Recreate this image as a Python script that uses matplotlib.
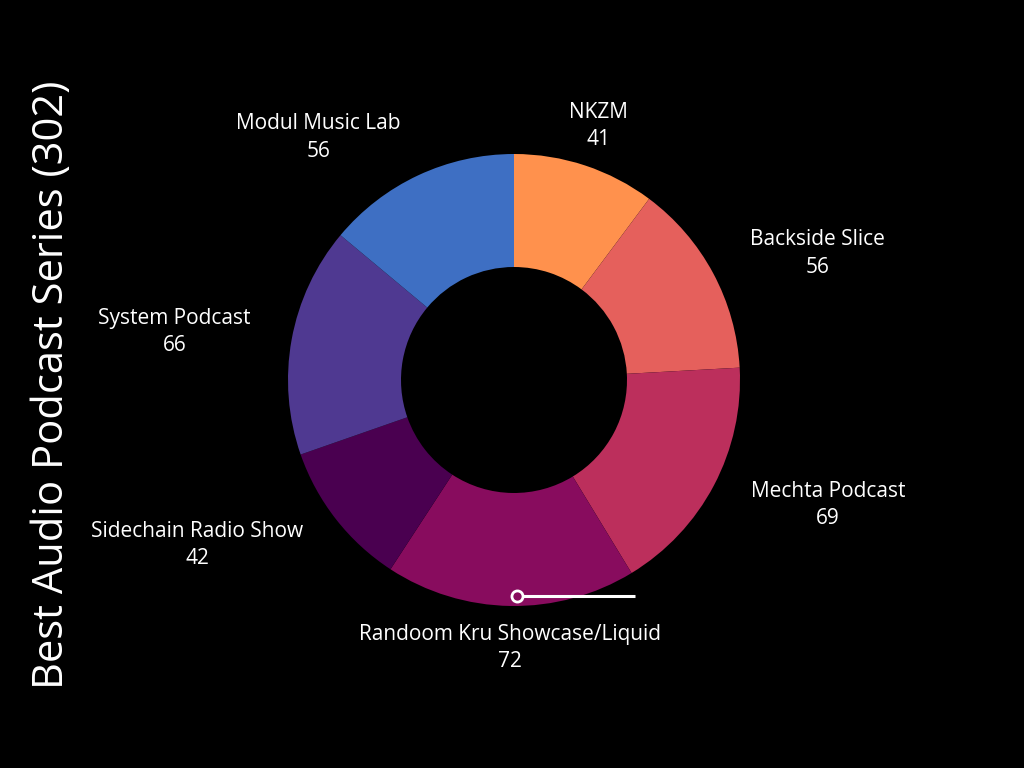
import numpy as np
import matplotlib.pyplot as plt

plt.rcParams['font.family'] = ['Open Sans', 'DejaVu Sans']

labels = ["NKZM", "Backside Slice", "Mechta Podcast", "Randoom Kru Showcase/Liquid",
          "Sidechain Radio Show", "System Podcast", "Modul Music Lab"]
values = [41, 56, 69, 72, 42, 66, 56]
colors = ["#FF914D", "#E5605C", "#BC2F5C", "#880C5E", "#4A0050", "#4F3991", "#3E6FC3"]
title = "Best Audio Podcast Series (302)"

fig = plt.figure(figsize=(10.24, 7.68), dpi=100, facecolor="black")
# axes so that center is at (514, 380) px and outer radius 226 px
R = 226
ax = fig.add_axes([(514 - 1.4 * R) / 1024, (768 - 380 - 1.4 * R) / 768,
                   2.8 * R / 1024, 2.8 * R / 768])
ax.set_facecolor("black")

wedges, _ = ax.pie(values, colors=colors, startangle=90, counterclock=False,
                   radius=1.0, wedgeprops=dict(width=0.5, linewidth=0))
ax.set_xlim(-1.4, 1.4)
ax.set_ylim(-1.4, 1.4)
ax.set_aspect("equal")
ax.axis("off")

total = sum(values)
cum = np.cumsum([0] + values)
for i, (lab, v) in enumerate(zip(labels, values)):
    mid = (cum[i] + v / 2) / total * 2 * np.pi   # clockwise from top
    x = np.sin(mid)
    y = np.cos(mid)
    r = 1.185
    if abs(x) < 0.35:
        ha = "center"
    elif x > 0:
        ha = "left"
    else:
        ha = "right"
    ax.text(r * x, r * y, lab + "\n" + str(v), color="white", fontsize=15,
            ha=ha, va="center", multialignment="center", linespacing=1.4)

# leader marker on the largest slice
k = int(np.argmax(values))
mid = (cum[k] + values[k] / 2) / total * 2 * np.pi
px, py = 0.955 * np.sin(mid) + 0.03, 0.955 * np.cos(mid)
ax.plot([px, px + 0.52], [py, py], color="white", lw=2.2, solid_capstyle="butt")
ax.plot(px, py, marker="o", ms=8, mfc=colors[k], mec="white", mew=2)

fig.text(52 / 1024, 1 - 385 / 768, title, rotation=90, color="white",
         fontsize=30, ha="center", va="center")

fig.savefig("out.png", dpi=100, facecolor="black")
